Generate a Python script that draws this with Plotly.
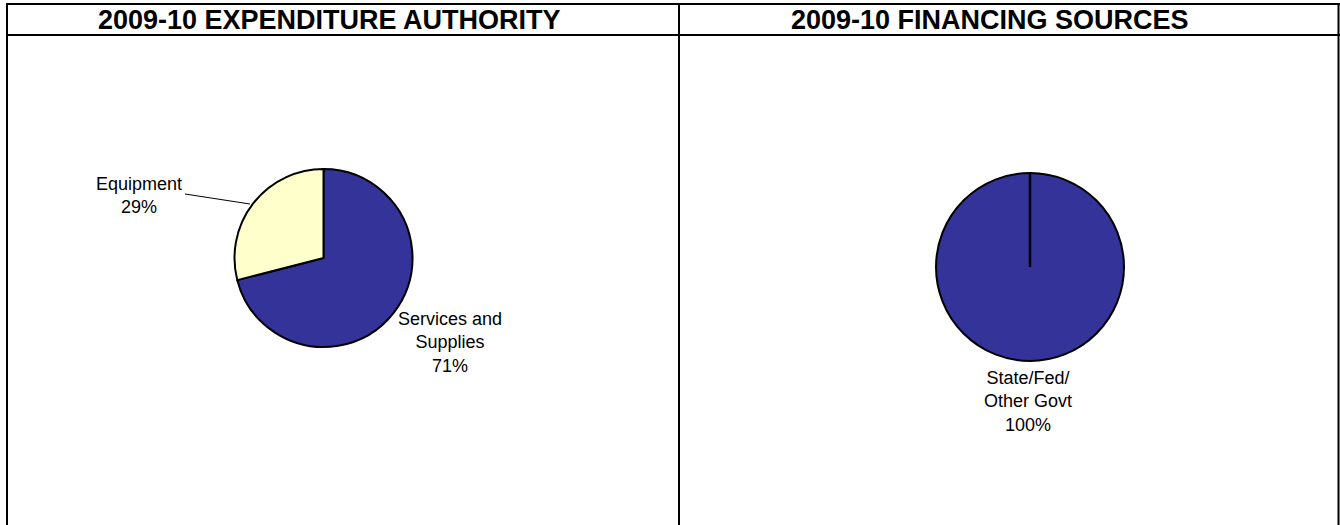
import plotly.graph_objects as go

# ---- data ----
exp_labels = ["Services and Supplies", "Equipment"]
exp_text = ["Services and<br>Supplies", "Equipment"]
exp_values = [71, 29]
exp_colors = ["#333399", "#FFFFCC"]

fin_labels = ["State/Fed/Other Govt"]
fin_text = ["State/Fed/<br>Other Govt"]
fin_values = [100]
fin_colors = ["#333399"]

titles = ["2009-10 EXPENDITURE AUTHORITY", "2009-10 FINANCING SOURCES"]

W, H = 1340, 525
FONT = "Liberation Sans, Arial, sans-serif"


def px(x):
    return x / W


def py(y):
    return 1 - y / H


def dom(cx, cy, r):
    return dict(x=[px(cx - r), px(cx + r)], y=[py(cy + r), py(cy - r)])


fig = go.Figure()

# left pie
L_CX, L_CY, L_R = 323.5, 258, 89
fig.add_trace(go.Pie(
    labels=exp_labels, values=exp_values, sort=False, direction="clockwise",
    rotation=0, textinfo="none", hoverinfo="label+percent",
    marker=dict(colors=exp_colors, line=dict(color="black", width=2)),
    domain=dom(L_CX, L_CY, L_R), showlegend=False,
))

# right pie
R_CX, R_CY, R_R = 1030, 267, 94
fig.add_trace(go.Pie(
    labels=fin_labels, values=fin_values, sort=False, direction="clockwise",
    rotation=0, textinfo="none", hoverinfo="label+percent",
    marker=dict(colors=fin_colors, line=dict(color="black", width=2)),
    domain=dom(R_CX, R_CY, R_R), showlegend=False,
))

shapes = []
line = dict(color="black", width=2)
# frame
shapes.append(dict(type="line", xref="paper", yref="paper", x0=px(6), x1=px(1340), y0=py(4), y1=py(4), line=line))
shapes.append(dict(type="line", xref="paper", yref="paper", x0=px(6), x1=px(1340), y0=py(35), y1=py(35), line=line))
shapes.append(dict(type="line", xref="paper", yref="paper", x0=px(7), x1=px(7), y0=py(4), y1=py(526), line=line))
shapes.append(dict(type="line", xref="paper", yref="paper", x0=px(679), x1=px(679), y0=py(4), y1=py(526), line=line))
shapes.append(dict(type="line", xref="paper", yref="paper", x0=px(1338.5), x1=px(1338.5), y0=py(4), y1=py(526), line=line))
# leader line for Equipment
shapes.append(dict(type="line", xref="paper", yref="paper", x0=px(185), x1=px(250), y0=py(194), y1=py(204),
                   line=dict(color="black", width=1)))
# radial line of the full pie
shapes.append(dict(type="line", xref="paper", yref="paper", x0=px(R_CX), x1=px(R_CX), y0=py(R_CY), y1=py(R_CY - R_R),
                   line=dict(color="black", width=2.5)))

tot_e = sum(exp_values)
tot_f = sum(fin_values)
annotations = [
    dict(x=px(329), y=py(20), text=f"<b>{titles[0]}</b>", font=dict(size=27, family=FONT, color="black")),
    dict(x=px(990), y=py(20), text=f"<b>{titles[1]}</b>", font=dict(size=27, family=FONT, color="black")),
    dict(x=px(450), y=py(342), text=f"{exp_text[0]}<br>{round(100 * exp_values[0] / tot_e)}%"),
    dict(x=px(139), y=py(195), text=f"{exp_text[1]}<br>{round(100 * exp_values[1] / tot_e)}%"),
    dict(x=px(1028), y=py(401), text=f"{fin_text[0]}<br>{round(100 * fin_values[0] / tot_f)}%"),
]
for a in annotations:
    a.setdefault("font", dict(size=18, family=FONT, color="black"))
    a.update(xref="paper", yref="paper", showarrow=False, xanchor="center", yanchor="middle")

fig.update_layout(
    width=W, height=H, margin=dict(l=0, r=0, t=0, b=0),
    paper_bgcolor="white", plot_bgcolor="white",
    shapes=shapes, annotations=annotations,
)

fig.write_html("out.html", config={"displayModeBar": False},
               post_script="document.body.style.margin='0';document.body.style.overflow='hidden';")
